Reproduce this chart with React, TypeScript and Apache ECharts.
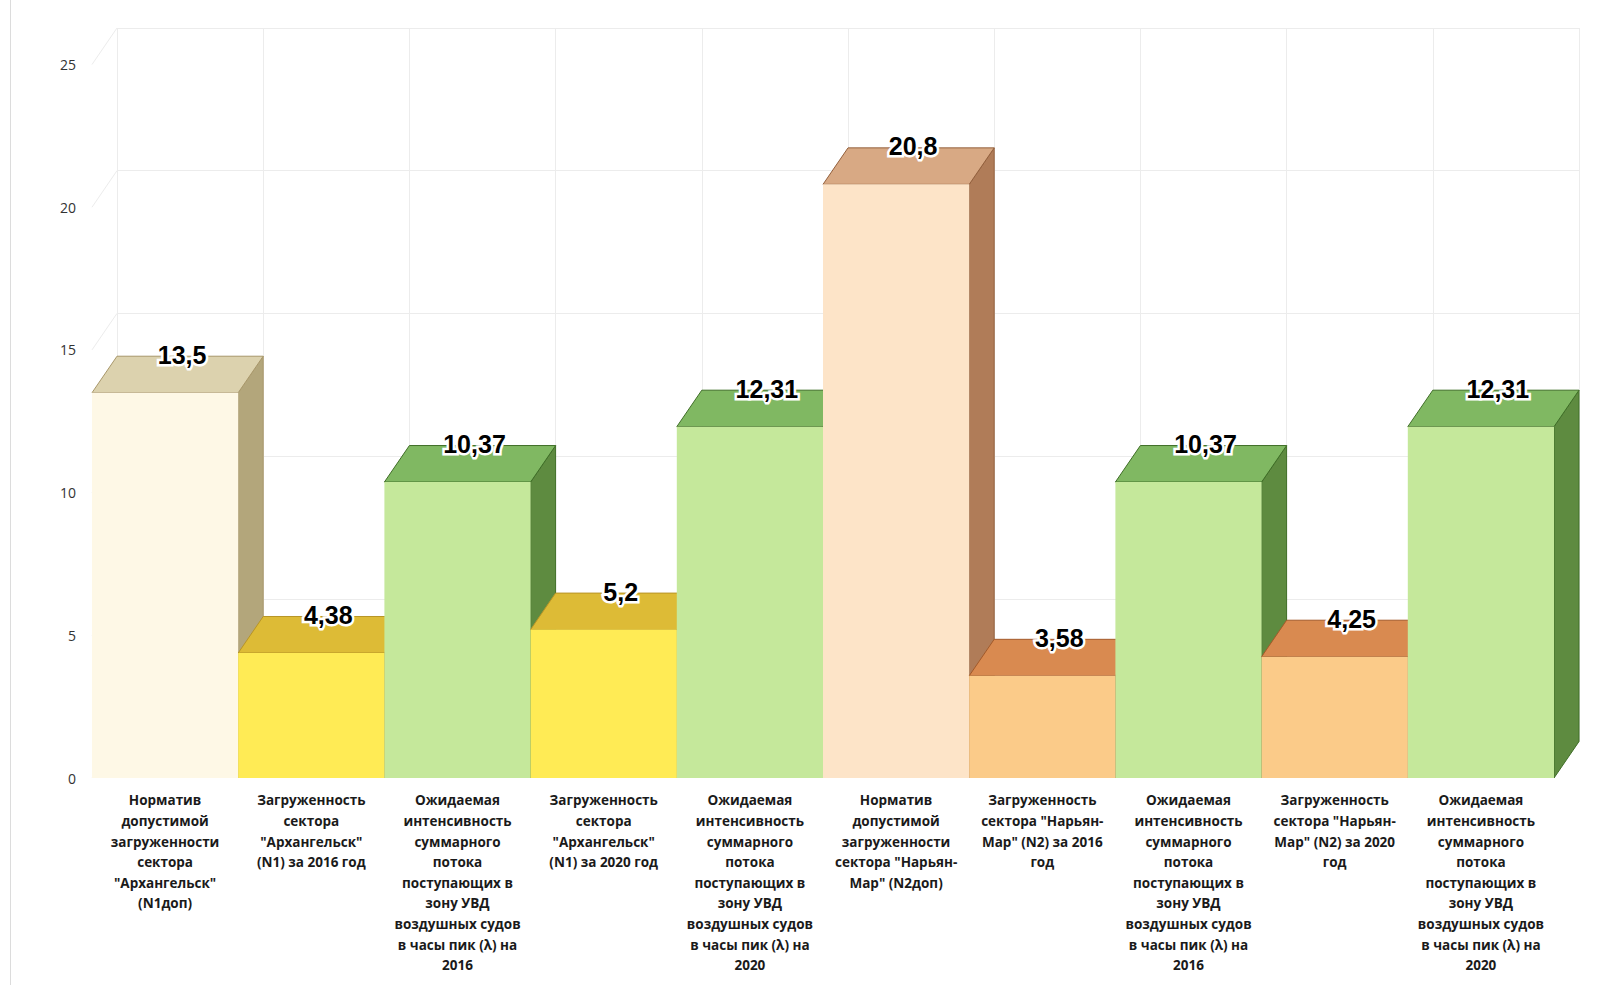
import React, { useEffect, useRef } from "react";
import * as echarts from "echarts";

const categories = [
  "Норматив\nдопустимой\nзагруженности\nсектора\n\"Архангельск\"\n(N1доп)",
  "Загруженность\nсектора\n\"Архангельск\"\n(N1) за 2016 год",
  "Ожидаемая\nинтенсивность\nсуммарного\nпотока\nпоступающих в\nзону УВД\nвоздушных судов\nв часы пик (λ) на\n2016",
  "Загруженность\nсектора\n\"Архангельск\"\n(N1) за 2020 год",
  "Ожидаемая\nинтенсивность\nсуммарного\nпотока\nпоступающих в\nзону УВД\nвоздушных судов\nв часы пик (λ) на\n2020",
  "Норматив\nдопустимой\nзагруженности\nсектора \"Нарьян-\nМар\" (N2доп)",
  "Загруженность\nсектора \"Нарьян-\nМар\" (N2) за 2016\nгод",
  "Ожидаемая\nинтенсивность\nсуммарного\nпотока\nпоступающих в\nзону УВД\nвоздушных судов\nв часы пик (λ) на\n2016",
  "Загруженность\nсектора \"Нарьян-\nМар\" (N2) за 2020\nгод",
  "Ожидаемая\nинтенсивность\nсуммарного\nпотока\nпоступающих в\nзону УВД\nвоздушных судов\nв часы пик (λ) на\n2020",
];

const values = [13.5, 4.38, 10.37, 5.2, 12.31, 20.8, 3.58, 10.37, 4.25, 12.31];

const yTicks = [0, 5, 10, 15, 20, 25];

// style palette (front, top, side, edge)
const palette = {
  cream: { front: "#FEF8E6", top: "#DCD2AE", side: "#B3A67B", edge: "#A8976A" },
  yellow: { front: "#FFEB55", top: "#DDBB36", side: "#B8992A", edge: "#B89526" },
  green: { front: "#C5E89B", top: "#80B862", side: "#5E8B40", edge: "#3F6E27" },
  peach: { front: "#FDE4C8", top: "#D8A984", side: "#B07C58", edge: "#94613E" },
  orange: { front: "#FBCB89", top: "#D98A50", side: "#B0693A", edge: "#A35A2A" },
};
const barStyles = [
  palette.cream, palette.yellow, palette.green, palette.yellow, palette.green,
  palette.peach, palette.orange, palette.green, palette.orange, palette.green,
];

const DX = 25;
const DY = 36.5;
const fmt = (v: number) => String(v).replace(".", ",");

export default function App() {
  const ref = useRef<HTMLDivElement>(null);
  useEffect(() => {
    if (!ref.current) return;
    const chart = echarts.init(ref.current, null, { renderer: "svg" });
    const gridColor = "#ececec";
    const option: any = {
      animation: false,
      backgroundColor: "#ffffff",
      grid: [
        { left: 92, right: 65, top: 64.5, bottom: 207 },
        { left: 117, right: 40, top: 28, bottom: 243.5 },
      ],
      xAxis: [
        {
          type: "category",
          gridIndex: 0,
          data: categories,
          axisLine: { show: false },
          axisTick: { show: false },
          splitLine: { show: false },
          axisLabel: {
            interval: 0,
            margin: 12,
            fontFamily: "'Open Sans', sans-serif",
            fontWeight: "bold",
            fontSize: 13.5,
            lineHeight: 20.6,
            color: "#1a1a1a",
            align: "center",
          },
        },
        {
          type: "category",
          gridIndex: 1,
          data: categories,
          axisLine: { show: false },
          axisTick: { show: false },
          axisLabel: { show: false },
          splitLine: { show: true, interval: 0, lineStyle: { color: gridColor, width: 1 } },
        },
      ],
      yAxis: [
        {
          type: "value",
          gridIndex: 0,
          min: 0,
          max: 25,
          interval: 5,
          axisLine: { show: false },
          axisTick: { show: false },
          splitLine: { show: false },
          axisLabel: {
            margin: 16,
            fontFamily: "'Open Sans', sans-serif",
            fontSize: 14,
            color: "#333333",
          },
        },
        {
          type: "value",
          gridIndex: 1,
          min: 0,
          max: 25,
          interval: 5,
          axisLine: { show: false },
          axisTick: { show: false },
          axisLabel: { show: false },
          splitLine: { show: true, lineStyle: { color: gridColor, width: 1 } },
        },
      ],
      graphic: [
        {
          type: "line",
          shape: { x1: 10.5, y1: 0, x2: 10.5, y2: 985 },
          style: { stroke: "#dcdcdc", lineWidth: 1 },
          silent: true,
        },
      ],
      series: [
        {
          type: "custom",
          xAxisIndex: 0,
          yAxisIndex: 0,
          z: 1,
          silent: true,
          data: yTicks.map((v) => [0, v]),
          renderItem: (params: any, api: any) => {
            const p = api.coord([0, api.value(1)]);
            const w = api.size([1, 0])[0];
            const x = p[0] - w / 2;
            return {
              type: "line",
              shape: { x1: x, y1: p[1], x2: x + DX, y2: p[1] - DY },
              style: { stroke: gridColor, lineWidth: 1 },
            };
          },
        },
        {
          type: "custom",
          xAxisIndex: 0,
          yAxisIndex: 0,
          z: 2,
          silent: true,
          data: values.map((v, i) => [i, v]),
          renderItem: (params: any, api: any) => {
            const i = params.dataIndex;
            const v = api.value(1);
            const base = api.coord([api.value(0), 0]);
            const top = api.coord([api.value(0), v]);
            const w = api.size([1, 0])[0];
            const x0 = base[0] - w / 2;
            const x1 = base[0] + w / 2;
            const yb = base[1];
            const yt = top[1];
            const s = barStyles[i];
            const label = fmt(values[i]);
            const lx = base[0] + 17;
            const ly = yt - DY - 1.5;
            const font = "bold 25px 'Liberation Sans', Arial, sans-serif";
            return {
              type: "group",
              children: [
                {
                  type: "polygon",
                  shape: { points: [[x1, yt], [x1 + DX, yt - DY], [x1 + DX, yb - DY], [x1, yb]] },
                  style: { fill: s.side, stroke: s.edge, lineWidth: 1 },
                },
                {
                  type: "polygon",
                  shape: { points: [[x0, yt], [x1, yt], [x1 + DX, yt - DY], [x0 + DX, yt - DY]] },
                  style: { fill: s.top, stroke: s.edge, lineWidth: 1 },
                },
                {
                  type: "rect",
                  shape: { x: x0, y: yt, width: w, height: yb - yt },
                  style: { fill: s.front, stroke: s.front, lineWidth: 0 },
                },
                {
                  type: "text",
                  style: {
                    text: label, x: lx, y: ly, font, textAlign: "center", textVerticalAlign: "middle",
                    fill: "#ffffff", stroke: "#ffffff", lineWidth: 5,
                  },
                },
                {
                  type: "text",
                  style: {
                    text: label, x: lx, y: ly, font, textAlign: "center", textVerticalAlign: "middle",
                    fill: "#000000",
                  },
                },
              ],
            };
          },
        },
      ],
    };
    chart.setOption(option);
    return () => chart.dispose();
  }, []);
  return (
    <div
      ref={ref}
      style={{ position: "fixed", left: 0, top: 0, width: "1619px", height: "985px" }}
    />
  );
}
